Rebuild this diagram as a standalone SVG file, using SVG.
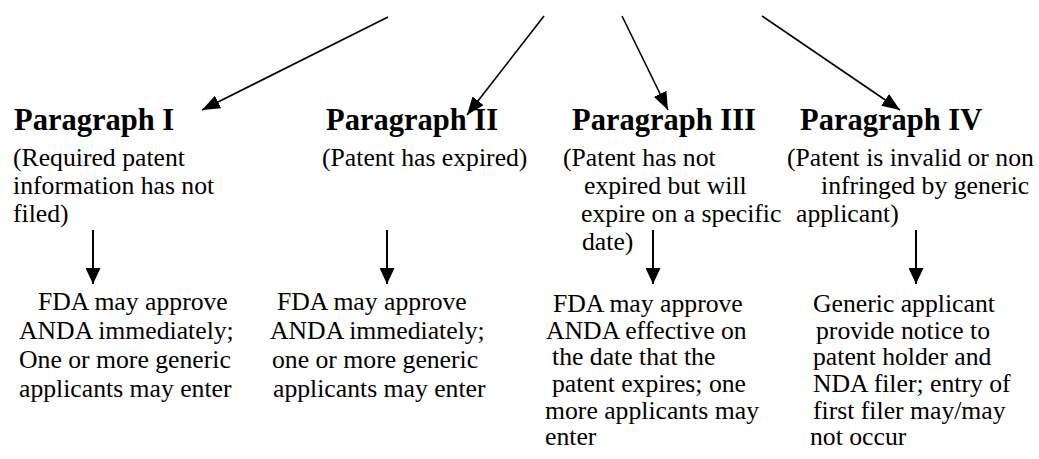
<svg xmlns="http://www.w3.org/2000/svg" width="1039" height="459" viewBox="0 0 1039 459">
<style>
text{font-family:'Liberation Serif','Times New Roman',serif;fill:#000}
.t{font-weight:700;font-size:30.5px}
.b{font-weight:400;font-size:25.7px}
.c line{stroke:#000;stroke-width:1.6;fill:none}
.c .d{stroke-width:2}
</style>
<defs>
<marker id="ah" viewBox="0 0 18 14" refX="18" refY="7" markerWidth="18" markerHeight="14" markerUnits="userSpaceOnUse" orient="auto">
<path d="M0,0 L18,7 L0,14 z" fill="#000"/>
</marker>
<marker id="ad" viewBox="0 0 16 15" refX="16" refY="7.5" markerWidth="16" markerHeight="15" markerUnits="userSpaceOnUse" orient="auto">
<path d="M0,0 L16,7.5 L0,15 z" fill="#000"/>
</marker>
</defs>
<g id="connectors" class="c">
<line x1="388" y1="17" x2="202" y2="110" marker-end="url(#ah)"/>
<line x1="544" y1="16" x2="467" y2="115" marker-end="url(#ah)"/>
<line x1="622" y1="16" x2="668" y2="110" marker-end="url(#ah)"/>
<line x1="762" y1="16" x2="900" y2="110" marker-end="url(#ah)"/>
<line class="d" x1="93" y1="230" x2="93" y2="284" marker-end="url(#ad)"/>
<line class="d" x1="387" y1="230" x2="387" y2="284" marker-end="url(#ad)"/>
<line class="d" x1="653" y1="230" x2="653" y2="284" marker-end="url(#ad)"/>
<line class="d" x1="916" y1="230" x2="916" y2="284" marker-end="url(#ad)"/>
</g>
<g id="p1">
<text class="t" x="14" y="130">Paragraph I</text>
<text class="b" x="13" y="166">(Required patent</text>
<text class="b" x="13" y="194">information has not</text>
<text class="b" x="13" y="222">filed)</text>
</g>
<g id="p2">
<text class="t" x="326" y="130">Paragraph II</text>
<text class="b" x="322" y="166">(Patent has expired)</text>
</g>
<g id="p3">
<text class="t" x="572" y="130">Paragraph III</text>
<text class="b" x="563" y="166">(Patent has not</text>
<text class="b" x="584" y="194">expired but will</text>
<text class="b" x="581" y="222">expire on a specific</text>
<text class="b" x="582" y="250">date)</text>
</g>
<g id="p4">
<text class="t" x="800" y="130">Paragraph IV</text>
<text class="b" x="787" y="166">(Patent is invalid or non</text>
<text class="b" x="821" y="194">infringed by generic</text>
<text class="b" x="796" y="222">applicant)</text>
</g>
<g id="r1">
<text class="b" x="38" y="310">FDA may approve</text>
<text class="b" x="19" y="339">ANDA immediately;</text>
<text class="b" x="19" y="368">One or more generic</text>
<text class="b" x="19" y="397">applicants may enter</text>
</g>
<g id="r2">
<text class="b" x="277" y="310">FDA may approve</text>
<text class="b" x="270" y="339">ANDA immediately;</text>
<text class="b" x="272" y="368">one or more generic</text>
<text class="b" x="273" y="397">applicants may enter</text>
</g>
<g id="r3">
<text class="b" x="553" y="312">FDA may approve</text>
<text class="b" x="546" y="338.7">ANDA effective on</text>
<text class="b" x="552" y="365.3">the date that the</text>
<text class="b" x="552" y="392">patent expires; one</text>
<text class="b" x="545" y="418.7">more applicants may</text>
<text class="b" x="545" y="445.3">enter</text>
</g>
<g id="r4">
<text class="b" x="813" y="312">Generic applicant</text>
<text class="b" x="816" y="338.7">provide notice to</text>
<text class="b" x="813" y="365.3">patent holder and</text>
<text class="b" x="813" y="392">NDA filer; entry of</text>
<text class="b" x="813" y="418.7">first filer may/may</text>
<text class="b" x="810" y="445.3">not occur</text>
</g>
</svg>
